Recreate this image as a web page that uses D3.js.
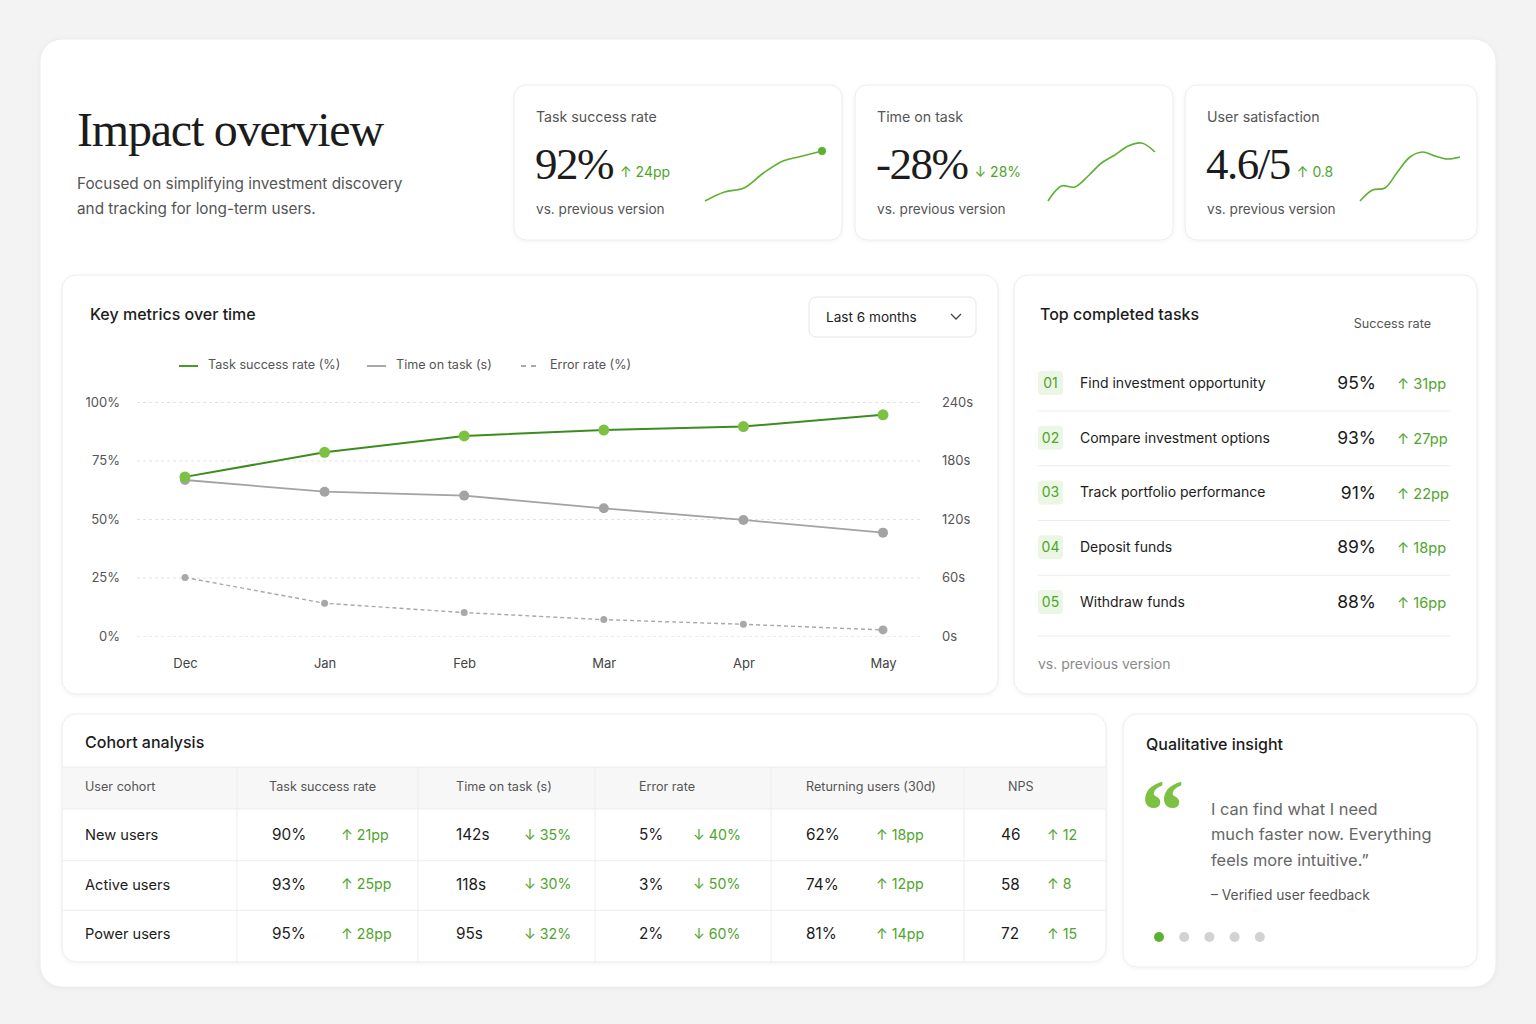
<!DOCTYPE html>
<html lang="en">
<head>
<meta charset="UTF-8">
<title>Impact overview</title>
<script src="https://cdn.jsdelivr.net/npm/d3@7"></script>
<style>
  body { margin: 0; background: #f3f3f3; }
  svg text { font-family: Inter, "Noto Sans", sans-serif; fill: #1c1c1c; }
  svg text.serif { font-family: "Liberation Serif", "DejaVu Serif", serif; }
  .card { fill: #fff; stroke: #ececec; stroke-width: 1; }
  .muted { fill: #555 !important; }
  .faint { fill: #8a8a8a !important; }
  .green { fill: #4ea52b !important; }
  .axis text { font-size: 13px; fill: #555; }
  .axis path { display: none; }
  .grid line { stroke: #e3e3e3; stroke-dasharray: 3 3; }
  .divider { stroke: #ededed; }
</style>
</head>
<body>
<svg id="page" width="1536" height="1024"></svg>
<script>
// ---- data ----
const months = ["Dec", "Jan", "Feb", "Mar", "Apr", "May"];
const taskSuccess = [68, 78.5, 85.5, 88, 89.5, 94.5];   // %
const timeOnTask = [160, 148, 144, 131, 119, 106];      // s
const errorRate = [25, 14, 10, 7, 5, 2.6];              // %
const leftTicks = [0, 25, 50, 75, 100];
const rightTicks = [0, 60, 120, 180, 240];

const kpiLabels = ["Task success rate", "Time on task", "User satisfaction"];
const kpiValues = ["92%", "-28%", "4.6/5"];
const kpiDeltas = ["↑ 24pp", "↓ 28%", "↑ 0.8"];
const sparkSuccess = [0, 9, 13, 28, 40, 45, 50];
const sparkTime = [0, 15, 14, 25, 38, 46, 55, 58, 49];
const sparkSatisfaction = [0, 11, 13, 29, 44, 49, 45, 42, 44];

const taskNames = ["Find investment opportunity", "Compare investment options", "Track portfolio performance", "Deposit funds", "Withdraw funds"];
const taskRates = [95, 93, 91, 89, 88];
const taskDeltas = [31, 27, 22, 18, 16];

const cohorts = ["New users", "Active users", "Power users"];
const cohortColumns = ["User cohort", "Task success rate", "Time on task (s)", "Error rate", "Returning users (30d)", "NPS"];
const cohortSuccess = ["90%", "93%", "95%"];
const cohortSuccessDelta = ["↑ 21pp", "↑ 25pp", "↑ 28pp"];
const cohortTime = ["142s", "118s", "95s"];
const cohortTimeDelta = ["↓ 35%", "↓ 30%", "↓ 32%"];
const cohortError = ["5%", "3%", "2%"];
const cohortErrorDelta = ["↓ 40%", "↓ 50%", "↓ 60%"];
const cohortReturning = ["62%", "74%", "81%"];
const cohortReturningDelta = ["↑ 18pp", "↑ 12pp", "↑ 14pp"];
const cohortNps = ["46", "58", "72"];
const cohortNpsDelta = ["↑ 12", "↑ 8", "↑ 15"];

const quoteLines = ["I can find what I need", "much faster now. Everything", "feels more intuitive.\u201D"];
const slideCount = 5;

// ---- page ----
const svg = d3.select("#page");
const defs = svg.append("defs");
const f = defs.append("filter").attr("id", "shadow").attr("x", "-5%").attr("y", "-5%").attr("width", "110%").attr("height", "115%");
f.append("feDropShadow").attr("dx", 0).attr("dy", 1).attr("stdDeviation", 2).attr("flood-color", "#000").attr("flood-opacity", 0.05);

function card(x, y, w, h, r) {
  svg.append("rect").attr("class", "card").attr("x", x).attr("y", y)
    .attr("width", w).attr("height", h).attr("rx", r).attr("filter", "url(#shadow)");
}
function text(x, y, s, size, cls, anchor) {
  return svg.append("text").attr("x", x).attr("y", y).attr("dy", "0.35em")
    .attr("class", cls || null).attr("text-anchor", anchor || "start")
    .style("font-size", size + "px").text(s);
}

card(40, 39, 1456, 948, 22);

// header
text(77, 131, "Impact overview", 48, "serif").attr("dy", "0.32em").style("letter-spacing", "-1.2px");
text(77, 184, "Focused on simplifying investment discovery", 15.3, "muted");
text(77, 209, "and tracking for long-term users.", 15.3, "muted");

// ---- KPI cards ----
const kpiCards = [[514, 85, 328, 155], [855, 85, 318, 155], [1185, 85, 292, 155]];
const sparkX = [[705, 822], [1048, 1155], [1360, 1460]];
const sparks = [sparkSuccess, sparkTime, sparkSatisfaction];
const sparkY = d3.scaleLinear().domain([0, 60]).range([201, 141]);

kpiCards.forEach(([x, y, w, h], i) => {
  card(x, y, w, h, 12);
  text(x + 22, 117, kpiLabels[i], 14.2, "muted");
  const v = text(x + 21, 163, kpiValues[i], 45, "serif").style("letter-spacing", "-1.5px");
  const vw = v.node().getComputedTextLength();
  text(x + 21 + vw + 7, 172, kpiDeltas[i], 14, "green");
  text(x + 22, 209, "vs. previous version", 13.6, "muted");

  const sx = d3.scaleLinear().domain([0, sparks[i].length - 1]).range(sparkX[i]);
  const line = d3.line().x((d, j) => sx(j)).y(d => sparkY(d)).curve(d3.curveCatmullRom.alpha(0.5));
  svg.append("path").datum(sparks[i]).attr("d", line)
    .attr("fill", "none").attr("stroke", "#5cb132").attr("stroke-width", 1.6);
  if (i === 0) {
    const last = sparks[i].length - 1;
    svg.append("circle").attr("cx", sx(last)).attr("cy", sparkY(sparks[i][last])).attr("r", 4).attr("fill", "#5cb132");
  }
});

// ---- Key metrics chart ----
card(62, 275, 936, 419, 14);
text(90, 314, "Key metrics over time", 16).style("font-weight", 500);

svg.append("rect").attr("x", 809).attr("y", 297).attr("width", 167).attr("height", 40).attr("rx", 7)
  .attr("fill", "#fff").attr("stroke", "#e6e6e6");
text(826, 317, "Last 6 months", 13.6);
svg.append("path").attr("d", "M951,314 L956,319 L961,314").attr("fill", "none").attr("stroke", "#444").attr("stroke-width", 1.3);

// legend
const legend = [
  { label: "Task success rate (%)", color: "#4a9a2a", dash: null, x: 179 },
  { label: "Time on task (s)", color: "#a9a9a9", dash: null, x: 367 },
  { label: "Error rate (%)", color: "#a9a9a9", dash: "5 5", x: 521 }
];
legend.forEach(l => {
  svg.append("line").attr("x1", l.x).attr("x2", l.x + 19).attr("y1", 366).attr("y2", 366)
    .attr("stroke", l.color).attr("stroke-width", 2).attr("stroke-dasharray", l.dash);
  text(l.x + 29, 365, l.label, 12.6, "muted");
});

const x = d3.scalePoint().domain(months).range([185, 883]);
const yL = d3.scaleLinear().domain([0, 100]).range([636, 402]);
const yR = d3.scaleLinear().domain([0, 240]).range([636, 402]);

svg.append("g").attr("class", "axis grid").attr("transform", "translate(137,0)")
  .call(d3.axisLeft(yL).tickValues(leftTicks).tickFormat(d => d + "%").tickSize(-783).tickPadding(17))
  .call(g => g.selectAll(".tick").filter(d => d === 0).select("line").style("stroke-dasharray", null).style("stroke", "#ececec"));
svg.append("g").attr("class", "axis").attr("transform", "translate(920,0)")
  .call(d3.axisRight(yR).tickValues(rightTicks).tickFormat(d => d + "s").tickSize(0).tickPadding(22));
svg.append("g").attr("class", "axis").attr("transform", "translate(0,636)")
  .call(d3.axisBottom(x).tickSize(0).tickPadding(23))
  .call(g => g.selectAll("text").style("fill", "#444"));

const lineL = d3.line().x((d, i) => x(months[i])).y(d => yL(d));
const lineR = d3.line().x((d, i) => x(months[i])).y(d => yR(d));

svg.append("path").datum(errorRate).attr("d", lineL).attr("fill", "none")
  .attr("stroke", "#a8a8a8").attr("stroke-width", 1.4).attr("stroke-dasharray", "4 3");
svg.append("g").selectAll("circle").data(errorRate).join("circle")
  .attr("cx", (d, i) => x(months[i])).attr("cy", d => yL(d))
  .attr("r", (d, i) => i === errorRate.length - 1 ? 4.5 : 3.5).attr("fill", "#a8a8a8");

svg.append("path").datum(timeOnTask).attr("d", lineR).attr("fill", "none")
  .attr("stroke", "#a3a3a3").attr("stroke-width", 1.8);
svg.append("g").selectAll("circle").data(timeOnTask).join("circle")
  .attr("cx", (d, i) => x(months[i])).attr("cy", d => yR(d)).attr("r", 5).attr("fill", "#a3a3a3");

svg.append("path").datum(taskSuccess).attr("d", lineL).attr("fill", "none")
  .attr("stroke", "#3d8c20").attr("stroke-width", 2);
svg.append("g").selectAll("circle").data(taskSuccess).join("circle")
  .attr("cx", (d, i) => x(months[i])).attr("cy", d => yL(d)).attr("r", 5.5).attr("fill", "#7cc142");

// ---- Top completed tasks ----
card(1014, 275, 463, 419, 14);
text(1040, 314, "Top completed tasks", 16).style("font-weight", 500);
text(1431, 324, "Success rate", 12.6, "muted", "end");
const rowY = d3.scalePoint().domain(d3.range(taskNames.length)).range([383, 602]);
taskNames.forEach((name, i) => {
  const cy = rowY(i);
  svg.append("rect").attr("x", 1038).attr("y", cy - 12).attr("width", 25).attr("height", 24).attr("rx", 4).attr("fill", "#ecf6e4");
  text(1050.5, cy, String(i + 1).padStart(2, "0"), 14, "green", "middle");
  text(1080, cy, name, 14);
  text(1376, cy, taskRates[i] + "%", 17.5, null, "end");
  text(1397, cy + 1, "↑ " + taskDeltas[i] + "pp", 14.6, "green");
  svg.append("line").attr("class", "divider").attr("x1", 1038).attr("x2", 1450)
    .attr("y1", i === taskNames.length - 1 ? 636 : cy + 28).attr("y2", i === taskNames.length - 1 ? 636 : cy + 28);
});
text(1038, 664, "vs. previous version", 14, "faint");

// ---- Cohort analysis ----
card(62, 714, 1044, 248, 14);
text(85, 742, "Cohort analysis", 16).style("font-weight", 500);
svg.append("rect").attr("x", 62.5).attr("y", 767).attr("width", 1043).attr("height", 42).attr("fill", "#f7f7f7");
svg.append("line").attr("class", "divider").attr("x1", 62).attr("x2", 1106).attr("y1", 767).attr("y2", 767);
svg.append("line").attr("class", "divider").attr("x1", 62).attr("x2", 1106).attr("y1", 809).attr("y2", 809);
const colLines = [237, 418, 595, 771, 964];
colLines.forEach(cx => svg.append("line").attr("class", "divider").attr("x1", cx).attr("x2", cx).attr("y1", 767).attr("y2", 962));
const headX = [85, 269, 456, 639, 806, 1008];
cohortColumns.forEach((c, i) => text(headX[i], 787, c, 12.6, "muted").style("fill", "#3a3a3a"));

const valueCols = [
  [cohortSuccess, cohortSuccessDelta, 272, 341],
  [cohortTime, cohortTimeDelta, 456, 524],
  [cohortError, cohortErrorDelta, 639, 693],
  [cohortReturning, cohortReturningDelta, 806, 876],
  [cohortNps, cohortNpsDelta, 1001, 1047]
];
const cohortY = d3.scalePoint().domain(cohorts).range([835, 934]);
cohorts.forEach((c, r) => {
  const cy = cohortY(c);
  text(85, cy, c, 14.6);
  valueCols.forEach(([vals, deltas, vx, dx]) => {
    text(vx, cy, vals[r], 15.3);
    text(dx, cy, deltas[r], 14.2, "green");
  });
  if (r < cohorts.length - 1) {
    const ly = (cy + cohortY(cohorts[r + 1])) / 2 + 1;
    svg.append("line").attr("class", "divider").attr("x1", 62).attr("x2", 1106).attr("y1", ly).attr("y2", ly);
  }
});

// ---- Qualitative insight ----
card(1123, 714, 354, 253, 14);
text(1146, 744, "Qualitative insight", 16).style("font-weight", 500);
svg.append("text").attr("class", "serif").attr("x", 1141).attr("y", 840)
  .style("font-size", "86px").style("font-weight", 700).style("fill", "#7cc142").text("\u201C");
quoteLines.forEach((l, i) => text(1211, 809 + i * 25.5, l, 16.4, null).style("fill", "#666"));
text(1211, 895, "– Verified user feedback", 13.8, "muted");
svg.append("g").selectAll("circle").data(d3.range(slideCount)).join("circle")
  .attr("cx", d => 1159 + d * 25.2).attr("cy", 937).attr("r", 5)
  .attr("fill", d => d === 0 ? "#5cb132" : "#d2d2d2");
</script>
</body>
</html>
